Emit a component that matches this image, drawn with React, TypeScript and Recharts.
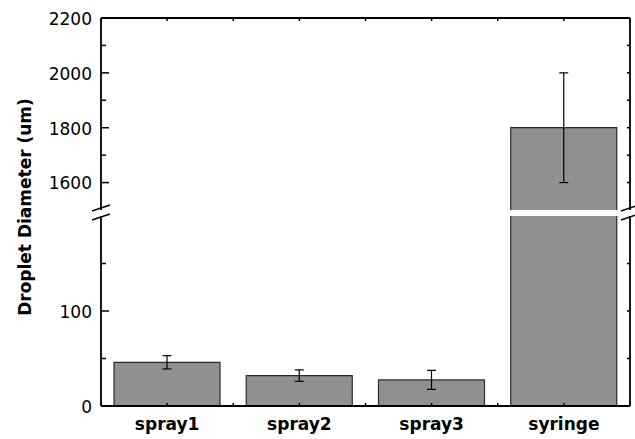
import { BarChart, Bar, XAxis, YAxis, ErrorBar } from "recharts";

const categories = ["spray1", "spray2", "spray3", "syringe"];
const means = [46, 32, 27.5, 1800];
const errors = [7, 6, 10, 200];

// broken y axis: lower part 0-200, upper part 1500-2200
const lowerDomain = [0, 200];
const upperDomain = [1500, 2200];
const lowerMajor = [0, 100];
const lowerMinor = [50, 150];
const upperMajor = [1600, 1800, 2000, 2200];
const upperMinor = [1700, 1900, 2100];
const xTicks = [0, 0.5, 1, 1.5, 2, 2.5, 3, 3.5, 4];

const W = 635;
const H = 439;
const FONT = "'DejaVu Sans', sans-serif";

const rows = categories.map((name, i) => ({
  name,
  pos: i + 0.5,
  mean: means[i],
  err: errors[i],
}));
const lowerData = rows.map((r) =>
  r.mean <= lowerDomain[1] ? r : { ...r, err: null }
);
const upperData = rows.map((r) =>
  r.mean > lowerDomain[1] ? r : { ...r, mean: null, err: null }
);

const BreakMark = ({ x, y }: { x: number; y: number }) => (
  <line x1={x - 9} y1={y + 3} x2={x + 9} y2={y - 3} stroke="#000" strokeWidth={1.5} />
);

const leftTick = (major: number[], breakAt: number, breakDy: number) => (props: any) => {
  const { x, y, payload } = props;
  const v = payload.value;
  if (v === breakAt) return <BreakMark x={x} y={y + breakDy} />;
  const isMajor = major.includes(v);
  return (
    <g>
      <line x1={x} x2={x + (isMajor ? 8 : 5)} y1={y} y2={y} stroke="#000" strokeWidth={1.5} />
      {isMajor && (
        <text x={x - 9} y={y} dy="0.4em" textAnchor="end" fontSize={17} fontFamily={FONT} fill="#000">
          {v}
        </text>
      )}
    </g>
  );
};

const rightTick = (breakAt: number, breakDy: number) => (props: any) => {
  const { x, y, payload } = props;
  if (payload.value === breakAt) return <BreakMark x={x} y={y + breakDy} />;
  return <line x1={x} x2={x - 3} y1={y} y2={y} stroke="#000" strokeWidth={1.5} />;
};

const topTick = (props: any) => {
  const { x, y } = props;
  return <line x1={x} x2={x} y1={y} y2={y + 3} stroke="#000" strokeWidth={1.5} />;
};

const bottomTick = (props: any) => {
  const { x, y, payload } = props;
  const idx = payload.value - 0.5;
  const label = Number.isInteger(idx) ? categories[idx] : null;
  return (
    <g>
      <line x1={x} x2={x} y1={y} y2={y - 3} stroke="#000" strokeWidth={1.5} />
      {label && (
        <text x={x} y={y + 24} textAnchor="middle" fontSize={17} fontWeight="bold" fontFamily={FONT} fill="#000">
          {label}
        </text>
      )}
    </g>
  );
};

const axisLine = { stroke: "#000", strokeWidth: 1.8 };
const barFill = "#8f9092";
const barStroke = "#2b2b2b";

// upper part of a broken bar: no outline along the break
const OpenBottomBar = (props: any) => {
  const { x, y, width, height } = props;
  if (!height) return null;
  return (
    <g>
      <rect x={x} y={y} width={width} height={height} fill={barFill} />
      <path
        d={`M${x},${y + height}V${y}H${x + width}V${y + height}`}
        fill="none"
        stroke={barStroke}
        strokeWidth={1.2}
      />
    </g>
  );
};

export default function App() {
  const upperTicks = [upperDomain[0], ...upperMajor, ...upperMinor].sort((a, b) => a - b);
  const lowerTicks = [...lowerMajor, ...lowerMinor, lowerDomain[1]].sort((a, b) => a - b);
  return (
    <div style={{ position: "absolute", left: 0, top: 0, width: W, height: H, background: "#fff" }}>
      <div style={{ position: "absolute", left: 0, top: 0 }}>
        <BarChart
          width={W}
          height={H}
          data={upperData}
          margin={{ top: 8, right: 0, left: 41, bottom: 229 }}
        >
          <XAxis
            type="number"
            dataKey="pos"
            orientation="top"
            domain={[0, 4]}
            ticks={xTicks}
            interval={0}
            height={10}
            tickSize={0}
            tickMargin={0}
            tickLine={false}
            axisLine={axisLine}
            tick={topTick}
          />
          <YAxis
            yAxisId="l"
            domain={upperDomain}
            ticks={upperTicks}
            interval={0}
            width={60}
            tickSize={0}
            tickMargin={0}
            tickLine={false}
            axisLine={axisLine}
            tick={leftTick(upperMajor, upperDomain[0], -2)}
            allowDataOverflow
          />
          <YAxis
            yAxisId="r"
            orientation="right"
            domain={upperDomain}
            ticks={upperTicks}
            interval={0}
            width={5}
            tickSize={0}
            tickMargin={0}
            tickLine={false}
            axisLine={axisLine}
            tick={rightTick(upperDomain[0], -2)}
            allowDataOverflow
          />
          <Bar
            yAxisId="l"
            dataKey="mean"
            barSize={106}
            fill={barFill}
            shape={OpenBottomBar}
            isAnimationActive={false}
          >
            <ErrorBar dataKey="err" width={4.5} stroke="#000" strokeWidth={1.2} direction="y" />
          </Bar>
        </BarChart>
      </div>
      <div style={{ position: "absolute", left: 0, top: 0 }}>
        <BarChart
          width={W}
          height={H}
          data={lowerData}
          margin={{ top: 216, right: 0, left: 41, bottom: 3 }}
        >
          <XAxis
            type="number"
            dataKey="pos"
            domain={[0, 4]}
            ticks={xTicks}
            interval={0}
            height={30}
            tickSize={0}
            tickMargin={0}
            tickLine={false}
            axisLine={axisLine}
            tick={bottomTick}
          />
          <YAxis
            yAxisId="l"
            domain={lowerDomain}
            ticks={lowerTicks}
            interval={0}
            width={60}
            tickSize={0}
            tickMargin={0}
            tickLine={false}
            axisLine={axisLine}
            tick={leftTick(lowerMajor, lowerDomain[1], 1)}
            allowDataOverflow
            label={{
              content: () => (
                <text
                  x={31}
                  y={207}
                  transform="rotate(-90 31 207)"
                  textAnchor="middle"
                  fontSize={17}
                  fontWeight="bold"
                  fontFamily={FONT}
                  fill="#000"
                >
                  Droplet Diameter (um)
                </text>
              ),
            }}
          />
          <YAxis
            yAxisId="r"
            orientation="right"
            domain={lowerDomain}
            ticks={lowerTicks}
            interval={0}
            width={5}
            tickSize={0}
            tickMargin={0}
            tickLine={false}
            axisLine={axisLine}
            tick={rightTick(lowerDomain[1], 1)}
            allowDataOverflow
          />
          <Bar
            yAxisId="l"
            dataKey="mean"
            barSize={106}
            fill={barFill}
            stroke={barStroke}
            strokeWidth={1.2}
            isAnimationActive={false}
          >
            <ErrorBar dataKey="err" width={4.5} stroke="#000" strokeWidth={1.2} direction="y" />
          </Bar>
        </BarChart>
      </div>
    </div>
  );
}
